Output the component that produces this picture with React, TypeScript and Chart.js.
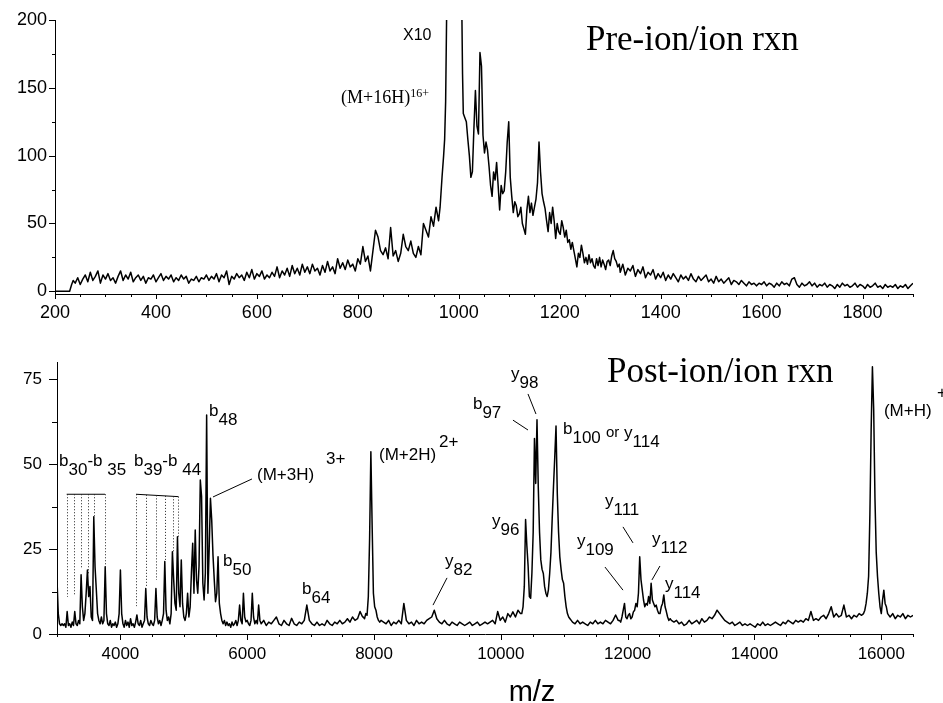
import React, { useEffect, useRef } from 'react';
import { Chart, registerables } from 'chart.js';

Chart.register(...registerables);

const SANS = '"Liberation Sans", Arial, Helvetica, sans-serif';
const SERIF = '"Liberation Serif", "Times New Roman", Times, serif';

/* ================= Top panel : Pre-ion/ion rxn ================= */
const preTitle = 'Pre-ion/ion rxn';
const preXRange = [200, 1900];
const preXMinorStep = 50;
const preXLabelStep = 200;
const preYRange = [-2, 200];
const preYMinorStep = 25;
const preYLabelStep = 50;

const preOnsetMz = [200, 229, 233, 236];
const preOnsetInt = [0, 0, 5, 8];

const preLowStart = 240;
const preLowStep = 5;
const preLowInt = [
  6, 10, 5, 9, 12, 7, 14, 8, 11, 15, 6, 12, 9, 13, 8, 10, 6, 11, 15, 8,
  12, 9, 14, 7, 10, 12, 8, 11, 6, 10, 9, 12, 7, 10, 13, 8, 11, 9, 12, 7,
  10, 8, 12, 9, 11, 6, 9, 8, 11, 7, 10, 9,
  12, 8, 11, 9, 13, 7, 12, 10, 15, 5, 11, 9, 13, 10, 12, 8, 14, 10, 16, 9,
  13, 11, 15, 9, 12, 10, 14, 11, 18, 10, 15, 12, 17, 11, 19, 13, 17, 12, 20, 14,
  18, 13, 20, 15, 17, 12, 19, 14, 22, 15, 18, 13, 24, 17, 21, 16, 23, 18, 20, 15,
  24, 20, 33, 22, 26, 15, 30, 45, 40, 30, 27, 32, 24, 47, 26, 30, 22, 28, 42, 33,
  30, 37, 28, 25, 33, 27, 50, 45, 40, 55, 48, 62, 52,
];

const preMainMz = [963, 967, 970, 972, 974, 976, 990, 1006, 1007.5];
const preMainInt = [62, 85, 100, 112, 140, 205, 400, 210, 160];

const preTailStart = 1009;
const preTailStep = 3;
const preTailInt = [
  131, 128, 125, 112, 100, 84, 88, 120, 148, 122,
  116, 176, 166, 115, 102, 110, 104, 92, 78, 70,
  88, 82, 95, 78, 60, 78, 72, 74, 88, 110,
  125, 84, 70, 58, 66, 63, 55, 57, 62, 50,
  46, 42, 60, 70, 58, 65, 56, 62, 68, 80,
  110, 88, 72, 66, 61, 52, 44, 58, 50, 62,
  52, 39, 50, 44, 42, 52, 47, 40, 45, 36,
  38, 31, 36, 30, 24, 18, 28, 25, 34, 28,
  21, 25, 20, 27, 21, 24, 19, 17, 24, 19,
  25, 18, 23, 20, 16, 22, 23, 19, 26, 30,
  24, 22, 18, 20,
];

const preHighStart = 1320;
const preHighStep = 5;
const preHighInt = [
  14, 20, 12, 17, 15, 19, 11, 16, 13, 18, 10, 14, 12, 16, 9, 13,
  10, 14, 8, 12, 9, 13, 10, 7, 12, 9, 11, 8, 13, 9, 7, 11, 8, 10, 12, 7,
  9, 6, 11, 7, 9, 6, 8, 10, 5, 8, 7, 5, 8, 6, 4, 7, 5, 6, 4, 6,
  5, 7, 4, 6, 5, 3, 6, 4, 7, 5, 6, 4, 9, 10, 5, 3, 6, 4, 5, 7,
  4, 6, 3, 5, 4, 6, 3, 5, 4, 2, 5, 3, 6, 4, 5, 3, 4, 6, 3, 5,
  4, 2, 5, 3, 4, 6, 3, 4, 2, 5, 3, 4, 3, 5, 2, 4, 3, 5, 2, 4, 6,
];

/* ================= Bottom panel : Post-ion/ion rxn ================= */
const postTitle = 'Post-ion/ion rxn';
const postXTitle = 'm/z';
const postXRange = [3000, 16500];
const postXMinorStep = 500;
const postXLabelStep = 2000;
const postYRange = [0, 80];
const postYMinorStep = 12.5;
const postYLabelStep = 25;

const postEdgeStart = 3000, postEdgeStep = 20;
const postEdgeInt = [16, 6, 3, 2.5, 3];

const postBIonStart = 3100, postBIonStep = 20;
const postBIonInt = [
  2.5, 3, 2, 6.6, 2.5, 3, 2, 3.5, 2.5, 6.6,
  3, 2.5, 4, 3, 17.4, 8, 4, 6, 12, 18.8,
  11, 14, 5, 4, 34.5, 19.8, 13, 6, 4, 3,
  5, 3, 4, 19.8, 6, 3, 2.5, 4, 2, 3,
  2.5, 3.5, 2, 3, 6, 18.8, 6, 3, 2, 4,
  2.5, 3.5, 2, 4.5, 2.5, 3, 2, 3.5, 5.6, 3,
  2.5, 4, 2, 3, 4, 13.4, 5, 3, 2.5, 4,
  3, 2.5, 4, 13.4, 5, 3, 4, 2.5, 4, 6,
  21.3, 7, 4, 5, 3, 6, 24.2, 16, 9, 7,
  28.6, 12, 8, 21.8, 9, 5, 4, 6, 12, 5,
  8, 18, 26.7, 12, 30.6, 16, 12, 20, 45.3, 40.4,
  15, 10, 18, 64.4, 12, 25, 39.9, 33.5, 23.2, 16,
  9.5, 12, 22.7, 9, 6, 4, 3, 4, 2.5, 3.5,
  2.5, 3, 2, 3.5, 2.5, 3, 4, 2.5, 4, 8.5,
  4, 3, 12, 5, 3.6, 4, 3, 2.5, 4, 12,
  5, 3, 4, 3, 8.5, 4,
];

const postMidAStart = 6220, postMidAStep = 40;
const postMidAInt = [
  3, 4, 2.5, 3.5, 3, 4, 5, 3, 2.5, 4,
  3, 2.5, 4.6, 3, 2.5, 3.5, 3, 4, 8.5, 4,
  3, 2.5, 3.5, 2.5, 3, 2.5, 4, 3, 2.5, 3.5,
  3, 4, 3, 3.5, 4.5, 3.5, 5, 4, 4.5, 6.6,
  5,
];

const postM2HStart = 7830, postM2HStep = 20;
const postM2HInt = [5, 4.5, 6, 5.5, 11, 28, 53.6, 32, 12, 8, 7, 5, 4, 3.5, 4];

const postMidBStart = 8150, postMidBStep = 40;
const postMidBInt = [
  3.5, 3, 4, 2.5, 3.5, 3, 4, 3, 9, 4,
  3, 3.5, 2.5, 4, 3, 3.5, 3, 4, 4.5, 5,
  7, 4.5, 3.5, 3, 4, 3, 2.5, 3.5, 3, 2.5,
  3.5, 3, 2.5, 3, 3.5, 2.5, 3, 3.5, 2.5, 3,
  3.5, 3, 3.5, 4, 3, 6.6, 4, 5, 3.5, 6,
  5, 6.5, 5, 7, 6,
];

const postY96Start = 10330, postY96Step = 20;
const postY96Int = [
  6, 8, 14, 33.7, 26, 20, 11, 10.5, 18, 30,
  57.5, 44.3, 63, 43.3, 30, 21.8, 19, 17.8, 14, 12,
  11, 13, 17.8, 24, 34, 43.3, 52, 61.2, 41.4, 30,
  22.7, 19, 16, 14.9, 11, 8, 6, 5, 4.5, 4,
];

const postMidCStart = 11130, postMidCStep = 40;
const postMidCInt = [3.5, 3, 4, 3, 3.5, 3, 2.5, 3.5, 3, 4, 3, 3.5, 3, 4, 3.5, 3, 4, 5.6, 4];

const postY111Start = 11870, postY111Step = 20;
const postY111Int = [
  4, 3.5, 5, 7, 9, 5, 4.5, 5.5, 6, 4.5,
  5, 6.5, 7, 9, 8, 12, 22.7, 16, 13, 10,
  8, 9, 8.5, 11, 9, 14.9, 10, 9, 8, 8.5,
  7, 6, 6, 8, 9, 11.5, 8, 6.6, 5, 4,
  4.5, 4,
];

const postMidDStart = 12730, postMidDStep = 40;
const postMidDInt = [
  3.5, 4, 3, 3.5, 2.5, 3, 4, 3, 3.5, 4,
  3, 4.5, 3.5, 4, 5, 4.5, 5.5, 7, 6, 5,
  4, 3.5, 3, 3.5, 2.5, 3, 3.5, 2.5, 3, 2.5,
  3, 2.5, 2, 3, 2.5, 3.5, 2.5, 3, 2.5, 3,
  3.5, 3, 2.5, 3.5, 3, 4, 3.5, 3, 4, 3.5,
  4, 3.5, 4.5, 4, 6.6, 4, 4.5, 4, 5, 5.5,
  4.5, 6, 8, 5, 6, 5, 5.5, 8.5, 5, 5.5,
  4.5, 5.5, 5, 6, 5.5,
];

const postMHStart = 15720, postMHStep = 20;
const postMHInt = [6, 7, 9, 12, 17, 35, 60, 78.6, 66, 40, 24, 17, 12, 8, 6, 10, 12.9, 9, 8, 6];

const postEndStart = 16140, postEndStep = 40;
const postEndInt = [5, 6, 4.5, 5.5, 5, 6, 4.5, 5.5, 5, 5.5];

/* ---------- annotations (in data units) ---------- */
const preLabels = [
  { x: 1252, y: 177.9, segs: [[preTitle, 'n']], font: SERIF, size: 35 },
  { x: 889.5, y: 185.3, segs: [['X10', 'n']], font: SANS, size: 16 },
  { x: 766.7, y: 138.8, segs: [['(M+16H)', 'n'], ['16+', 'sup']], font: SERIF, size: 18, supSize: 12, supDy: -6 },
];

const postLabels = [
  { x: 3032, y: 49.4, segs: [['b', 'n'], ['30', 'sub'], ['-b', 'n'], [' 35', 'sub']] },
  { x: 4214, y: 49.4, segs: [['b', 'n'], ['39', 'sub'], ['-b', 'n'], [' 44', 'sub']] },
  { x: 5397, y: 64.1, segs: [['b', 'n'], ['48', 'sub']] },
  { x: 6154, y: 45.3, segs: [['(M+3H)', 'n']] },
  { x: 7242, y: 50, segs: [['3+', 'n']] },
  { x: 5618, y: 20, segs: [['b', 'n'], ['50', 'sub']] },
  { x: 6864, y: 11.8, segs: [['b', 'n'], ['64', 'sub']] },
  { x: 8078, y: 51.2, segs: [['(M+2H)', 'n']] },
  { x: 9024, y: 55, segs: [['2+', 'n']] },
  { x: 9119, y: 20, segs: [['y', 'n'], ['82', 'sub']] },
  { x: 9860, y: 31.8, segs: [['y', 'n'], ['96', 'sub']] },
  { x: 9560, y: 66.2, segs: [['b', 'n'], ['97', 'sub']] },
  { x: 10160, y: 75, segs: [['y', 'n'], ['98', 'sub']] },
  { x: 10980, y: 58.8, segs: [['b', 'n'], ['100', 'sub']] },
  { x: 11658, y: 57.9, segs: [['or', 'small']] },
  { x: 11942, y: 57.6, segs: [['y', 'n'], ['114', 'sub']] },
  { x: 11642, y: 37.6, segs: [['y', 'n'], ['111', 'sub']] },
  { x: 11200, y: 25.9, segs: [['y', 'n'], ['109', 'sub']] },
  { x: 12383, y: 26.5, segs: [['y', 'n'], ['112', 'sub']] },
  { x: 12588, y: 13.2, segs: [['y', 'n'], ['114', 'sub']] },
  { x: 16042, y: 64.1, segs: [['(M+H)', 'n']] },
  { x: 16878, y: 69.4, segs: [['+', 'n']] },
  { x: 11674, y: 74.1, segs: [[postTitle, 'n']], font: SERIF, size: 35 },
];

const postLeaders = [
  [6075, 45.6, 5460, 40.3],
  [9151, 16.5, 8930, 8.5],
  [10191, 62.9, 10428, 60],
  [10428, 70.6, 10554, 64.7],
  [11926, 31.5, 12084, 26.8],
  [11642, 19.7, 11926, 12.9],
  [12509, 20, 12383, 15.9],
];

const postBrackets = [
  { y0: 41.1, y1: 41.1, xs: [3153, 3268, 3378, 3484, 3589, 3757], ends: [10.9, 11.5, 19.4, 17.4, 34.1, 19.4] },
  { y0: 41.1, y1: 40.4, xs: [4246, 4404, 4561, 4703, 4824, 4914], ends: [8.2, 13.9, 15.9, 21.8, 23.7, 28.6] },
];

/* ---------- helpers ---------- */
const seq = (start: number, step: number, vals: number[]) => vals.map((y, i) => ({ x: start + i * step, y }));
const zip = (xs: number[], ys: number[]) => xs.map((x, i) => ({ x, y: ys[i] }));

const preData = [
  ...zip(preOnsetMz, preOnsetInt),
  ...seq(preLowStart, preLowStep, preLowInt),
  ...zip(preMainMz, preMainInt),
  ...seq(preTailStart, preTailStep, preTailInt),
  ...seq(preHighStart, preHighStep, preHighInt),
];

const postData = [
  ...seq(postEdgeStart, postEdgeStep, postEdgeInt),
  ...seq(postBIonStart, postBIonStep, postBIonInt),
  ...seq(postMidAStart, postMidAStep, postMidAInt),
  ...seq(postM2HStart, postM2HStep, postM2HInt),
  ...seq(postMidBStart, postMidBStep, postMidBInt),
  ...seq(postY96Start, postY96Step, postY96Int),
  ...seq(postMidCStart, postMidCStep, postMidCInt),
  ...seq(postY111Start, postY111Step, postY111Int),
  ...seq(postMidDStart, postMidDStep, postMidDInt),
  ...seq(postMHStart, postMHStep, postMHInt),
  ...seq(postEndStart, postEndStep, postEndInt),
];

function axis(range: number[], minorStep: number, labelStep: number, fontSize: number, pad: number, fixed: number, isX: boolean) {
  return {
    type: 'linear',
    min: range[0],
    max: range[1],
    grid: { display: true, drawOnChartArea: false, drawTicks: false },
    border: { display: true, color: '#000', width: 1 },
    ticks: {
      stepSize: minorStep,
      autoSkip: false,
      includeBounds: false,
      maxRotation: 0,
      minRotation: 0,
      padding: pad,
      color: '#000',
      font: { family: SANS, size: fontSize },
      callback: (v: number) => {
        const r = v / labelStep;
        return Math.abs(r - Math.round(r)) < 1e-9 ? String(v) : '';
      },
    },
    afterFit: (s: any) => {
      if (isX) s.height = fixed;
      else s.width = fixed;
    },
  };
}

function drawRich(ctx: CanvasRenderingContext2D, x: number, y: number, lab: any) {
  const family = lab.font || SANS;
  const size = lab.size || 17;
  let cx = x;
  for (const [t, kind] of lab.segs) {
    let s = size;
    let dy = 0;
    if (kind === 'sub') { s = lab.subSize || size; dy = lab.subDy ?? 9; }
    if (kind === 'sup') { s = lab.supSize || size; dy = lab.supDy ?? -11; }
    if (kind === 'small') { s = 15; }
    ctx.font = `${s}px ${family}`;
    ctx.fillText(t, cx, y + dy);
    cx += ctx.measureText(t).width;
  }
}

function annotPlugin(spec: any) {
  return {
    id: spec.id,
    afterDraw(chart: any) {
      const { ctx, chartArea } = chart;
      const xs = chart.scales.x;
      const ys = chart.scales.y;
      const X = (v: number) => xs.getPixelForValue(v);
      const Y = (v: number) => ys.getPixelForValue(v);
      ctx.save();
      ctx.strokeStyle = '#000';
      ctx.fillStyle = '#000';
      ctx.lineWidth = 1;
      const seg = (x1: number, y1: number, x2: number, y2: number) => {
        ctx.beginPath();
        ctx.moveTo(x1, y1);
        ctx.lineTo(x2, y2);
        ctx.stroke();
      };
      for (const t of xs.ticks) {
        const px = Math.round(X(t.value)) + 0.5;
        const len = t.label ? spec.xMajor : spec.xMinor;
        seg(px, chartArea.bottom, px, chartArea.bottom + len);
      }
      for (const t of ys.ticks) {
        const py = Math.round(Y(t.value)) + 0.5;
        const len = t.label ? spec.yMajor : spec.yMinor;
        seg(chartArea.left - len, py, chartArea.left, py);
      }
      for (const l of spec.leaders || []) seg(X(l[0]), Y(l[1]), X(l[2]), Y(l[3]));
      for (const b of spec.brackets || []) {
        const xa = b.xs[0];
        const xb = b.xs[b.xs.length - 1];
        seg(X(xa), Y(b.y0), X(xb), Y(b.y1));
        ctx.save();
        ctx.setLineDash([1, 2]);
        ctx.strokeStyle = '#222';
        b.xs.forEach((xv: number, i: number) => {
          const frac = (xv - xa) / (xb - xa);
          const yTop = Y(b.y0) + (Y(b.y1) - Y(b.y0)) * frac;
          const px = Math.round(X(xv)) + 0.5;
          seg(px, yTop, px, Y(b.ends[i]));
        });
        ctx.restore();
      }
      ctx.textAlign = 'left';
      ctx.textBaseline = 'alphabetic';
      for (const lab of spec.labels || []) drawRich(ctx, X(lab.x), Y(lab.y), lab);
      if (spec.xTitle) {
        ctx.textAlign = 'center';
        ctx.font = `29px ${SANS}`;
        ctx.fillText(spec.xTitle, X(spec.xTitleAt), chartArea.bottom + 67);
      }
      ctx.restore();
    },
  };
}

function lineDataset(data: any[]) {
  return {
    data,
    borderColor: '#000',
    borderWidth: 1.5,
    pointRadius: 0,
    tension: 0,
    fill: false,
    borderJoinStyle: 'round',
  };
}

export default function App() {
  const topRef = useRef<HTMLCanvasElement>(null);
  const botRef = useRef<HTMLCanvasElement>(null);

  useEffect(() => {
    const common = {
      responsive: false,
      animation: false,
      events: [],
      plugins: { legend: { display: false }, tooltip: { enabled: false } },
    };
    const top = new Chart(topRef.current as HTMLCanvasElement, {
      type: 'line',
      data: { datasets: [lineDataset(preData)] },
      options: {
        ...common,
        layout: { padding: { left: 0, right: 30, top: 20, bottom: 0 } },
        scales: {
          x: axis(preXRange, preXMinorStep, preXLabelStep, 18, 8, 31, true),
          y: axis(preYRange, preYMinorStep, preYLabelStep, 18, 8, 55, false),
        },
      },
      plugins: [annotPlugin({ id: 'preAnnot', xMajor: 5, xMinor: 3, yMajor: 6, yMinor: 3, labels: preLabels })],
    } as any);
    const bot = new Chart(botRef.current as HTMLCanvasElement, {
      type: 'line',
      data: { datasets: [lineDataset(postData)] },
      options: {
        ...common,
        layout: { padding: { left: 0, right: 30, top: 37, bottom: 0 } },
        scales: {
          x: axis(postXRange, postXMinorStep, postXLabelStep, 17, 10, 69, true),
          y: axis(postYRange, postYMinorStep, postYLabelStep, 17, 15, 57, false),
        },
      },
      plugins: [annotPlugin({
        id: 'postAnnot', xMajor: 6, xMinor: 3, yMajor: 8, yMinor: 5,
        labels: postLabels, leaders: postLeaders, brackets: postBrackets,
        xTitle: postXTitle, xTitleAt: 10491,
      })],
    } as any);
    return () => {
      top.destroy();
      bot.destroy();
    };
  }, []);

  return (
    <div style={{ position: 'fixed', left: 0, top: 0, width: 943, height: 703, background: '#fff', overflow: 'hidden' }}>
      <canvas ref={topRef} width={943} height={325} style={{ position: 'absolute', left: 0, top: 0 }} />
      <canvas ref={botRef} width={943} height={378} style={{ position: 'absolute', left: 0, top: 325 }} />
    </div>
  );
}
